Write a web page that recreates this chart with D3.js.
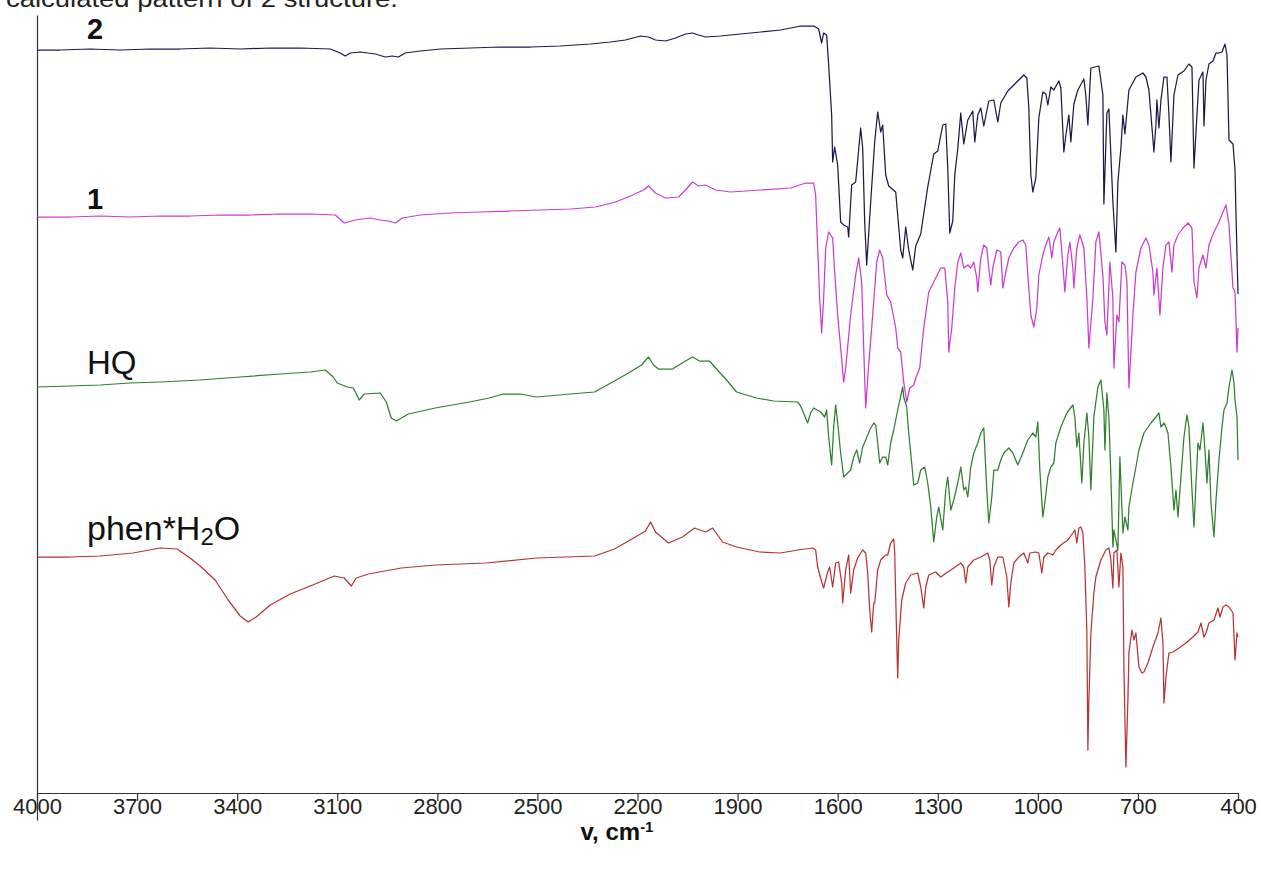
<!DOCTYPE html>
<html><head><meta charset="utf-8">
<script src="https://cdn.jsdelivr.net/npm/d3@7"></script>
<style>body{margin:0;background:#fff}svg{display:block}</style>
</head><body>
<svg id="c" width="1261" height="871"></svg>
<script>
// IR spectra, wavenumber (cm-1) vs. intensity (arbitrary units, stacked traces)
const xTicks = [4000,3700,3400,3100,2800,2500,2200,1900,1600,1300,1000,700,400];

const spec2 = [[4000,743],[3931,743],[3841,744],[3751,743],[3661,744],[3571,744],[3481,745],[3391,744],[3301,745],[3211,745],[3121,744],[3091,740],[3076,737],[3061,740],[3031,741],[2986,739],[2956,736],[2935,737],[2917,736],[2896,740],[2851,742],[2791,744],[2701,745],[2611,746],[2521,746],[2431,747],[2341,749],[2281,751],[2236,753],[2191,757],[2167,756],[2146,753],[2116,752],[2086,755],[2056,759],[2035,760],[2017,758],[1996,756],[1951,757],[1891,759],[1831,761],[1771,763],[1711,767],[1672,767],[1657,764],[1648,750],[1642,760],[1633,758],[1627,728],[1618,678],[1615,631],[1609,646],[1600,628],[1591,571],[1582,568],[1570,566],[1567,556],[1558,608],[1546,611],[1531,665],[1525,645],[1519,571],[1513,528],[1501,591],[1489,651],[1480,681],[1471,661],[1465,668],[1456,618],[1447,607],[1426,601],[1411,543],[1405,535],[1396,566],[1387,543],[1375,523],[1366,547],[1351,559],[1330,606],[1312,639],[1300,642],[1285,668],[1276,669],[1270,625],[1264,560],[1255,572],[1249,618],[1240,644],[1231,680],[1222,649],[1210,673],[1195,682],[1189,651],[1180,678],[1171,685],[1162,667],[1147,692],[1132,693],[1120,671],[1111,690],[1090,702],[1063,711],[1042,718],[1033,715],[1027,685],[1021,618],[1015,601],[1006,615],[997,675],[985,701],[976,699],[970,688],[961,706],[952,703],[937,712],[931,705],[922,641],[916,658],[907,678],[901,651],[892,689],[880,703],[862,714],[856,697],[850,668],[841,725],[817,727],[805,698],[802,589],[793,680],[787,684],[775,591],[766,541],[760,611],[751,645],[745,678],[739,659],[727,703],[706,716],[685,720],[676,716],[667,703],[652,641],[646,668],[643,693],[637,665],[631,693],[622,716],[613,716],[607,678],[601,631],[592,698],[580,718],[562,722],[547,729],[538,726],[532,625],[523,678],[517,713],[505,721],[502,667],[496,713],[487,729],[475,732],[466,740],[457,740],[448,741],[439,749],[433,738],[427,653],[415,649],[409,623],[406,578],[400,499]];

const spec1 = [[4000,576],[3901,576],[3811,577],[3721,576],[3631,577],[3541,577],[3451,578],[3361,578],[3271,579],[3181,579],[3106,578],[3079,570],[3046,573],[3001,575],[2971,573],[2947,572],[2926,570],[2905,575],[2851,578],[2761,580],[2671,581],[2581,582],[2491,583],[2401,584],[2326,586],[2266,591],[2221,597],[2182,603],[2167,607],[2146,600],[2116,595],[2077,596],[2056,603],[2035,611],[2017,607],[1996,608],[1966,603],[1921,601],[1831,603],[1741,605],[1696,610],[1672,610],[1666,598],[1660,545],[1654,495],[1648,460],[1642,495],[1636,545],[1627,561],[1615,555],[1609,521],[1600,478],[1591,445],[1582,411],[1576,425],[1561,478],[1546,518],[1537,535],[1528,511],[1522,445],[1516,385],[1507,428],[1495,478],[1483,531],[1474,543],[1465,535],[1453,498],[1441,491],[1426,465],[1420,445],[1411,441],[1402,411],[1393,391],[1384,405],[1372,408],[1366,415],[1354,425],[1342,465],[1327,501],[1312,511],[1291,525],[1279,525],[1270,491],[1267,441],[1258,465],[1249,505],[1240,531],[1231,540],[1222,525],[1210,528],[1201,525],[1192,531],[1183,515],[1180,501],[1171,535],[1162,548],[1153,545],[1147,525],[1141,508],[1135,525],[1123,543],[1111,541],[1105,505],[1096,521],[1087,535],[1072,545],[1057,551],[1045,553],[1036,548],[1030,518],[1021,478],[1012,466],[1003,485],[997,518],[985,538],[976,548],[967,556],[958,535],[952,551],[940,561],[934,565],[925,528],[919,501],[910,538],[904,551],[895,525],[892,505],[883,545],[874,558],[862,545],[853,495],[847,445],[835,495],[826,551],[817,561],[805,518],[799,471],[793,458],[784,531],[775,495],[772,425],[763,478],[757,471],[748,531],[739,528],[733,511],[727,405],[715,478],[706,521],[691,545],[676,555],[667,548],[655,521],[652,498],[643,525],[634,478],[625,525],[616,548],[607,551],[598,521],[592,548],[580,558],[565,565],[550,570],[538,565],[532,511],[523,495],[517,525],[505,538],[496,525],[487,548],[472,561],[457,571],[445,581],[436,588],[427,568],[415,505],[409,501],[403,441],[400,465]];

const specHQ = [[4000,406],[3901,407],[3811,408],[3721,410],[3631,411],[3511,413],[3391,416],[3271,419],[3181,421],[3136,423],[3112,416],[3100,410],[3070,406],[3052,405],[3034,393],[3019,399],[2971,400],[2953,391],[2938,375],[2923,372],[2887,379],[2806,385],[2704,391],[2644,395],[2602,399],[2551,399],[2503,396],[2401,399],[2329,401],[2269,412],[2227,420],[2188,428],[2167,436],[2152,428],[2137,424],[2095,424],[2056,432],[2035,436],[2014,432],[1984,432],[1963,424],[1933,413],[1903,401],[1843,395],[1792,392],[1720,391],[1711,387],[1690,370],[1681,380],[1672,385],[1651,381],[1639,376],[1633,383],[1627,356],[1618,328],[1612,366],[1606,388],[1600,370],[1591,340],[1582,316],[1570,320],[1561,323],[1552,336],[1543,343],[1534,330],[1525,346],[1516,353],[1504,363],[1492,370],[1486,368],[1480,350],[1474,330],[1465,336],[1456,336],[1450,328],[1441,350],[1432,363],[1420,383],[1405,406],[1402,396],[1393,386],[1387,360],[1381,340],[1372,308],[1360,310],[1351,323],[1339,326],[1330,310],[1321,286],[1312,251],[1303,276],[1297,286],[1285,263],[1276,303],[1270,316],[1261,283],[1252,293],[1240,310],[1231,326],[1222,303],[1216,306],[1210,296],[1201,326],[1192,340],[1180,350],[1171,360],[1162,365],[1153,303],[1147,270],[1138,296],[1132,323],[1120,323],[1111,333],[1102,340],[1087,345],[1075,340],[1060,328],[1045,340],[1030,353],[1015,360],[1006,356],[1000,371],[994,323],[985,276],[979,290],[970,316],[961,326],[952,330],[946,350],[931,366],[913,380],[895,388],[889,376],[883,346],[877,360],[868,310],[862,350],[853,380],[847,356],[841,303],[832,376],[820,406],[811,413],[802,383],[799,343],[793,400],[787,376],[781,316],[775,246],[772,263],[760,243],[754,336],[745,260],[739,276],[730,263],[727,286],[715,310],[706,326],[697,343],[682,360],[661,370],[646,376],[637,380],[631,366],[622,370],[616,366],[610,360],[601,326],[592,283],[586,303],[580,276],[571,316],[562,356],[553,378],[547,366],[538,303],[532,266],[526,310],[520,350],[514,343],[505,370],[499,343],[493,310],[487,343],[481,290],[472,256],[466,293],[457,333],[448,366],[442,383],[433,390],[427,406],[418,423],[412,410],[409,393],[403,376],[400,333]];

const specPhen = [[4000,236],[3901,236],[3811,237],[3712,240],[3631,245],[3580,244],[3541,235],[3511,227],[3466,213],[3427,193],[3391,177],[3367,171],[3343,176],[3301,188],[3241,199],[3181,207],[3109,217],[3079,215],[3058,207],[3043,215],[3007,219],[2908,225],[2806,228],[2653,230],[2503,235],[2329,237],[2269,244],[2227,252],[2176,262],[2161,271],[2146,261],[2107,250],[2065,256],[2029,265],[1996,261],[1975,265],[1945,251],[1903,246],[1834,241],[1771,240],[1720,243],[1675,245],[1666,243],[1660,226],[1648,211],[1642,205],[1630,221],[1624,226],[1615,206],[1606,230],[1597,231],[1588,210],[1585,190],[1576,223],[1567,238],[1561,200],[1552,223],[1540,235],[1525,243],[1516,240],[1510,220],[1504,183],[1498,161],[1492,190],[1489,190],[1480,223],[1471,233],[1456,238],[1450,238],[1441,250],[1432,254],[1429,240],[1423,153],[1420,115],[1417,153],[1408,193],[1396,210],[1381,218],[1360,220],[1351,206],[1342,185],[1336,206],[1327,218],[1306,221],[1291,216],[1270,221],[1252,225],[1231,230],[1222,226],[1216,210],[1210,226],[1192,233],[1171,236],[1150,240],[1144,233],[1138,208],[1132,226],[1120,236],[1105,236],[1093,216],[1087,186],[1081,210],[1072,230],[1057,236],[1042,240],[1036,235],[1030,230],[1024,240],[1006,241],[997,240],[988,220],[982,236],[970,240],[955,238],[946,243],[931,248],[910,253],[895,260],[889,263],[883,250],[877,265],[871,266],[865,260],[859,226],[853,160],[850,43],[847,93],[841,160],[832,200],[826,216],[811,233],[796,243],[787,245],[781,233],[775,205],[772,240],[763,243],[757,206],[751,240],[745,226],[742,126],[736,26],[730,93],[727,140],[718,163],[712,153],[706,160],[697,126],[688,120],[682,121],[670,130],[655,146],[640,160],[631,175],[625,150],[622,90],[616,116],[607,140],[595,141],[577,145],[556,150],[535,156],[520,161],[511,170],[502,156],[496,160],[487,170],[472,173],[460,185],[454,176],[445,186],[436,188],[427,186],[415,180],[409,133],[403,160],[400,156]];

const seriesColors = ["#1b1b4a", "#cc3ccc", "#2f7f2f", "#b83333"];

const svg = d3.select("#c");
const x = d3.scaleLinear().domain([4000, 400]).range([37, 1238]);
const y = d3.scaleLinear().domain([0, 770]).range([793, 23]);
const line = d3.line().x(d => x(d[0])).y(d => y(d[1]));

// caption (cut at the top of the picture)
svg.append("text").attr("x", 6).attr("y", 7)
  .attr("font-family", "Liberation Sans, Arial, sans-serif").attr("font-size", 24)
  .attr("fill", "#222").attr("textLength", 392).attr("lengthAdjust", "spacingAndGlyphs")
  .text("calculated pattern of 2 structure.");

// axes
const xAxis = svg.append("g").attr("transform", "translate(0,793)")
  .call(d3.axisBottom(x).tickValues(xTicks).tickSize(8).tickSizeOuter(0).tickFormat(d3.format("d")));
xAxis.select(".domain").attr("stroke", "#333").attr("stroke-width", 1.2);
xAxis.selectAll(".tick line").attr("stroke", "#333").attr("stroke-width", 1.2);
xAxis.selectAll(".tick text").attr("y", 21).attr("dy", null)
  .attr("font-family", "Liberation Sans, Arial, sans-serif").attr("font-size", 22).attr("fill", "#222");

const yFrame = d3.scaleLinear().domain([0, 1]).range([820, 15]);
const yAxis = svg.append("g").attr("transform", "translate(37,0)")
  .call(d3.axisLeft(yFrame).tickValues([]).tickSizeOuter(0));
yAxis.select(".domain").attr("stroke", "#333").attr("stroke-width", 1.2);

// spectra
[spec2, spec1, specHQ, specPhen].forEach((s, i) => {
  svg.append("path").attr("d", line(s)).attr("fill", "none")
    .attr("stroke", seriesColors[i]).attr("stroke-width", 1.25).attr("stroke-linejoin", "round");
});

// trace labels
const lab = (txt, yy, bold) => svg.append("text").attr("x", 87).attr("y", yy)
  .attr("font-family", "Liberation Sans, Arial, sans-serif")
  .attr("font-size", bold ? 29 : 33).attr("font-weight", bold ? "bold" : "normal")
  .attr("fill", "#111").text(txt);
lab("2", 39, true);
lab("1", 209, true);
lab("HQ", 374, false);
const ph = svg.append("text").attr("x", 87).attr("y", 540)
  .attr("font-family", "Liberation Sans, Arial, sans-serif").attr("font-size", 34).attr("fill", "#111");
ph.append("tspan").text("phen*H");
ph.append("tspan").attr("font-size", 24).attr("dy", 5).text("2");
ph.append("tspan").attr("dy", -5).text("O");

// x title
const t = svg.append("text").attr("x", 617).attr("y", 840).attr("text-anchor", "middle")
  .attr("font-family", "Liberation Sans, Arial, sans-serif").attr("font-size", 24)
  .attr("font-weight", "bold").attr("fill", "#111");
t.append("tspan").text("v, cm");
t.append("tspan").attr("font-size", 15).attr("dy", -8).text("-1");
</script>
</body></html>
